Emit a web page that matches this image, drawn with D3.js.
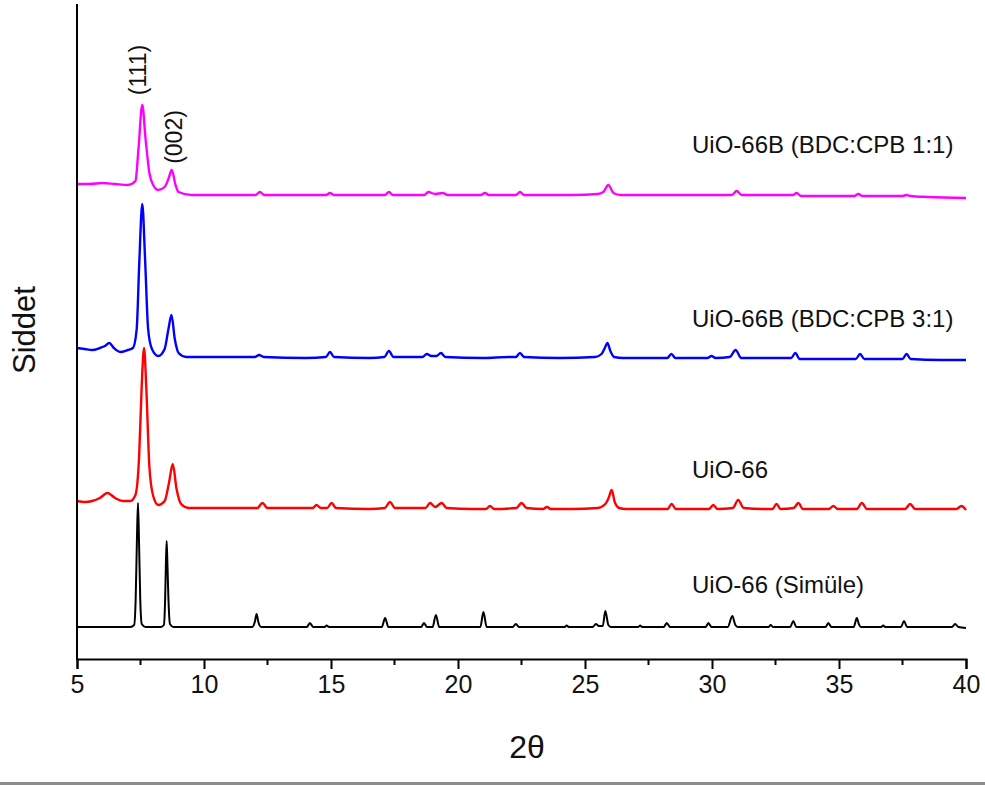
<!DOCTYPE html>
<html>
<head>
<meta charset="utf-8">
<script src="https://cdn.jsdelivr.net/npm/d3@7"></script>
<style>
  html, body { margin: 0; padding: 0; background: #fff; }
  svg { display: block; }
  text { font-family: "Liberation Sans", Arial, sans-serif; fill: #111; }
</style>
</head>
<body>
<svg id="chart" width="985" height="785"></svg>
<script>
// ---------- DATA (2θ, stacked intensity in a.u.) ----------
const xTickValues = [5, 10, 15, 20, 25, 30, 35, 40];
const xMinorTickValues = [7.5, 12.5, 17.5, 22.5, 27.5, 32.5, 37.5];

const seriesNames = ["UiO-66 (Simüle)", "UiO-66", "UiO-66B (BDC:CPB 3:1)", "UiO-66B (BDC:CPB 1:1)"];
const seriesColors = ["#000000", "#ff0000", "#0000ff", "#ff00ff"];
const peakLabels = ["(111)", "(002)"];

const simulated = [
  [5.0,32],[7.1,32],[7.25,34],[7.31,60],[7.36,120],[7.40,156],[7.44,120],[7.49,60],[7.55,35],[7.7,32],
  [8.3,32],[8.42,34],[8.47,60],[8.50,95],[8.53,118],[8.56,95],[8.60,60],[8.66,35],[8.8,32],
  [11.9,32],[12.0,37],[12.07,45],[12.14,37],[12.25,32],
  [14.05,32],[14.17,36],[14.3,32],[14.75,32],[14.83,33.5],[14.92,32],
  [17.0,32],[17.13,41],[17.26,32],[18.55,32],[18.66,36],[18.78,32],
  [19.0,32],[19.13,44],[19.26,32],[20.88,32],[21.0,47],[21.13,32],
  [22.15,32],[22.28,35],[22.4,32],[24.2,32],[24.28,33.5],[24.36,32],
  [25.3,32],[25.43,35],[25.55,33],[25.7,33],[25.8,48],[25.92,34],[26.02,32],
  [27.1,32],[27.17,33.5],[27.25,32],[28.1,32],[28.22,36],[28.35,32],
  [29.75,32],[29.86,36],[29.98,32],[30.62,32],[30.8,43],[30.92,34],[31.02,32],
  [32.23,32],[32.31,34],[32.4,32],[33.08,32],[33.2,38],[33.32,32],
  [34.47,32],[34.58,36],[34.7,32],[35.58,32],[35.7,41],[35.78,35],[35.86,32],
  [36.66,32],[36.74,33.5],[36.82,32],[37.44,32],[37.56,38],[37.68,32],
  [39.45,32],[39.57,35],[39.7,32],[40.0,31]
];

const uio66 = [
  [5.0,158],[5.3,157],[5.6,158],[5.9,161],[6.2,166],[6.5,161],[6.8,158],[7.1,158],[7.3,164],[7.45,205],[7.55,275],[7.64,311],
  [7.73,270],[7.85,192],[8.0,163],[8.2,154],[8.45,158],[8.62,176],[8.77,195],[8.92,170],[9.1,155],
  [9.4,151],[10.5,151],[11.5,151],[12.1,151],[12.3,156],[12.5,151],[13.8,151],[14.28,151],[14.43,154],[14.6,151],
  [14.85,151],[15.02,156],[15.2,151],[16.5,150],[17.12,151],[17.32,157],[17.52,151],[18.5,151],[18.72,151],[18.9,156],
  [19.1,152],[19.36,156],[19.55,151],[20.6,150],[21.1,150],[21.26,153],[21.42,150],[22.3,151],[22.5,156],[22.7,151],
  [23.35,150],[23.5,152],[23.65,150],[24.5,150],[25.5,151],[25.8,155],[25.93,161],[26.05,169],[26.17,157],[26.35,151],
  [26.6,150],[27.5,150],[28.25,150],[28.41,155],[28.58,150],[29.5,150],[29.88,150],[30.05,154],[30.22,150],
  [30.82,151],[31.03,159],[31.25,151],[32.0,150],[32.38,150],[32.54,155],[32.7,150],[33.22,151],[33.4,156],[33.58,150],
  [34.6,150],[34.78,153],[34.95,150],[35.7,150],[35.9,156],[36.1,150],[37.0,150],[37.6,150],[37.8,155],[38.0,150],
  [39.0,150],[39.62,150],[39.82,153],[40.0,149]
];

const bdc31 = [
  [5.0,311],[5.3,310],[5.6,309],[5.9,311],[6.1,313],[6.27,316],[6.45,311],[6.7,307],[7.0,309],[7.2,311],
  [7.35,330],[7.45,395],[7.57,455],[7.68,400],[7.8,330],[7.95,310],[8.2,303],[8.45,310],[8.6,330],
  [8.72,344],[8.85,320],[9.0,306],[9.3,302],[10.5,302],[11.6,302],[12.0,302],[12.17,304],[12.35,302],
  [14.0,301],[14.8,302],[14.96,307],[15.12,302],[16.5,301],[17.1,302],[17.28,308],[17.46,302],[18.4,302],
  [18.6,302],[18.77,305],[18.95,303],[19.15,303],[19.33,306],[19.5,302],[21.0,301],[22.0,302],[22.28,302],
  [22.44,306],[22.6,302],[24.0,301],[25.4,302],[25.65,305],[25.78,311],[25.88,316],[26.0,308],[26.15,302],
  [26.5,301],[27.5,301],[28.24,301],[28.4,305],[28.56,301],[29.82,301],[29.98,303],[30.14,301],[30.7,302],
  [30.93,309],[31.15,301],[32.3,301],[33.12,301],[33.28,306],[33.45,300],[35.0,300],[35.66,300],[35.83,305],
  [36.0,300],[37.5,300],[37.66,305],[37.82,300],[39.0,299],[40.0,299]
];

const bdc11 = [
  [5.0,475],[5.5,475],[6.0,476],[6.5,475],[7.0,474],[7.3,478],[7.42,510],[7.57,554],[7.7,520],[7.85,486],
  [8.0,474],[8.2,469],[8.45,472],[8.6,480],[8.73,489],[8.88,474],[9.0,467],[9.5,464],[11.0,464],
  [12.03,464],[12.2,467],[12.37,464],[14.0,464],[14.8,464],[14.96,466],[15.12,464],[16.5,464],[17.12,464],
  [17.28,467],[17.44,464],[18.5,464],[18.67,464],[18.83,467],[19.1,465],[19.4,466],[19.6,464],[20.9,464],
  [21.06,466],[21.22,464],[22.28,464],[22.44,467],[22.6,464],[24.5,464],[25.5,465],[25.72,467],[25.92,474],
  [26.12,466],[26.4,464],[27.0,464],[28.5,464],[29.5,464],[30.5,464],[30.78,464],[30.97,468],[31.17,464],
  [33.18,464],[33.34,466],[33.5,463],[35.6,463],[35.76,465],[35.92,463],[37.5,463],[37.66,464],[37.82,463],
  [38.5,462],[40.0,461]
];

const seriesData = [simulated, uio66, bdc31, bdc11];

// ---------- LAYOUT ----------
const svg = d3.select("#chart");
const x = d3.scaleLinear().domain([5, 40]).range([77, 966]);
const y = d3.scaleLinear().domain([0, 655]).range([659, 4]);

// grey rule at the bottom edge
svg.append("rect").attr("x", 0).attr("y", 782).attr("width", 985).attr("height", 3).attr("fill", "#8c8c8c");

// traces
const line = d3.line().x(d => x(d[0])).y(d => y(d[1])).curve(d3.curveMonotoneX);
svg.append("g").selectAll("path").data(seriesData).join("path")
  .attr("d", d => line(d))
  .attr("fill", "none")
  .attr("stroke", (d, i) => seriesColors[i])
  .attr("stroke-width", (d, i) => i === 0 ? 2 : 2.4)
  .attr("stroke-linejoin", "round");

// x axis
const xAxis = svg.append("g").attr("transform", "translate(0,659)")
  .call(d3.axisBottom(x).tickValues(xTickValues).tickFormat(d3.format("d")).tickSize(10).tickPadding(6));
xAxis.select(".domain").attr("stroke", "#000").attr("stroke-width", 2);
xAxis.selectAll(".tick line").attr("stroke", "#000").attr("stroke-width", 2);
xAxis.selectAll(".tick text").attr("font-size", 25).attr("fill", "#111")
  .style("font-family", "'Liberation Sans', Arial, sans-serif");
svg.append("g").attr("transform", "translate(0,659)").selectAll("line").data(xMinorTickValues).join("line")
  .attr("x1", d => x(d)).attr("x2", d => x(d)).attr("y1", 0).attr("y2", 6)
  .attr("stroke", "#000").attr("stroke-width", 2);

// y axis line (no ticks)
svg.append("line").attr("x1", 77).attr("x2", 77).attr("y1", 4).attr("y2", 660)
  .attr("stroke", "#000").attr("stroke-width", 2);

// axis titles
svg.append("text").attr("x", 527).attr("y", 758).attr("text-anchor", "middle")
  .attr("font-size", 32).text("2θ");
svg.append("text").attr("transform", "translate(35,330) rotate(-90)").attr("text-anchor", "middle")
  .attr("font-size", 31).text("Siddet");

// series labels
const labelBaselines = [593, 478, 327, 153];
svg.append("g").selectAll("text").data(seriesNames).join("text")
  .attr("x", 692).attr("y", (d, i) => labelBaselines[i])
  .attr("font-size", 24).text(d => d);

// peak labels
const peakLabelPos = [[146, 70], [182, 137]];
svg.append("g").selectAll("text").data(peakLabels).join("text")
  .attr("transform", (d, i) => `translate(${peakLabelPos[i][0]},${peakLabelPos[i][1]}) rotate(-90)`)
  .attr("text-anchor", "middle").attr("font-size", 23).text(d => d);
</script>
</body>
</html>
